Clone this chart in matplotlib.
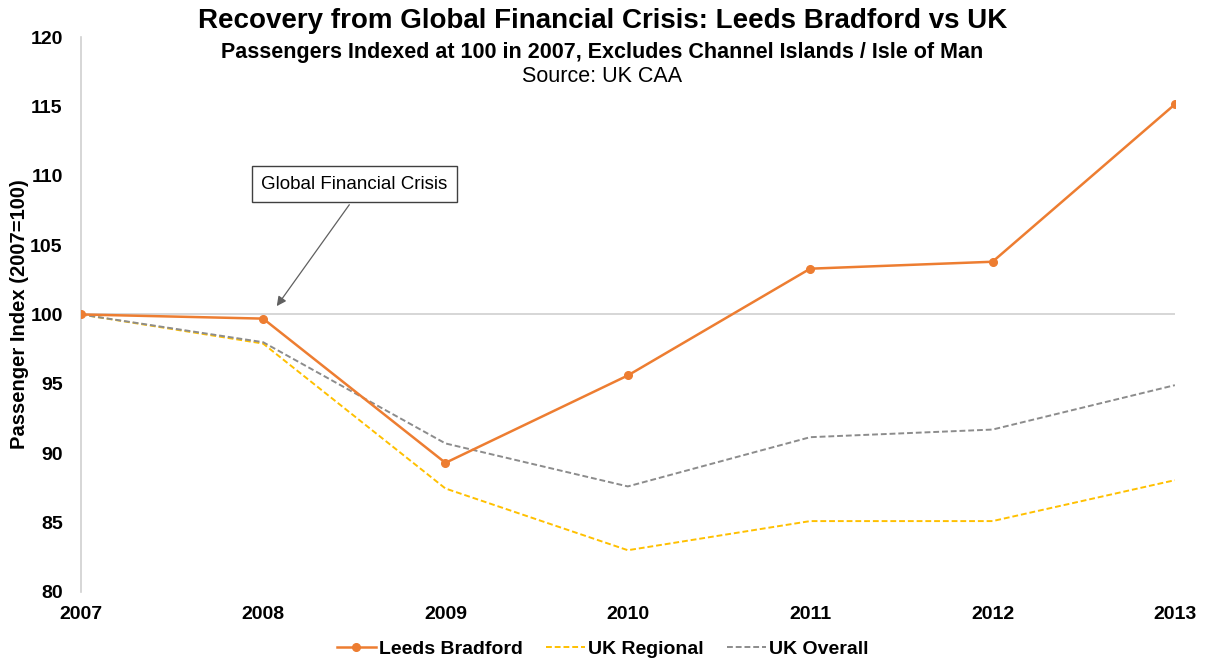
import matplotlib.pyplot as plt

plt.rcParams['font.family'] = ['Liberation Sans', 'DejaVu Sans']

years = [2007, 2008, 2009, 2010, 2011, 2012, 2013]
leeds = [100.0, 99.7, 89.3, 95.6, 103.3, 103.8, 115.15]
uk_regional = [100.0, 97.9, 87.45, 83.0, 85.1, 85.1, 88.05]
uk_overall = [100.0, 98.0, 90.7, 87.6, 91.15, 91.7, 94.9]

fig = plt.figure(figsize=(12.05, 6.62), dpi=100)
ax = fig.add_axes([0.067, 0.106, 0.908, 0.838])

ax.axhline(100, color='#d0d0d0', lw=1.2, zorder=1)
ax.plot(years, leeds, color='#ED7D31', lw=1.8, marker='o', ms=5.5,
        label='Leeds Bradford', zorder=4)
ax.plot(years, uk_regional, color='#FFC000', lw=1.4, dashes=(3, 1.5),
        label='UK Regional', zorder=3)
ax.plot(years, uk_overall, color='#8c8c8c', lw=1.4, dashes=(3, 1.5),
        label='UK Overall', zorder=3)

ax.set_xlim(2007, 2013)
ax.set_ylim(80, 120)
ax.set_yticks(range(80, 121, 5))
ax.set_xticks(years)
ax.tick_params(length=0, labelsize=14)
ax.tick_params(axis='y', pad=13)
ax.tick_params(axis='x', pad=10)
for lab in ax.get_xticklabels() + ax.get_yticklabels():
    lab.set_fontweight('bold')

for s in ['top', 'right', 'bottom']:
    ax.spines[s].set_visible(False)
ax.spines['left'].set_color('#d0d0d0')
ax.spines['left'].set_linewidth(1.2)

ax.set_ylabel('Passenger Index (2007=100)', fontsize=14.5, fontweight='bold', labelpad=1)

# annotation box with arrow pointing at 2008
ax.annotate('Global Financial Crisis', xy=(2008.075, 100.6), xytext=(2008.5, 109.4),
            ha='center', va='center', fontsize=13.5,
            bbox=dict(boxstyle='square,pad=0.5', fc='white', ec='#404040', lw=1),
            arrowprops=dict(arrowstyle='-|>', color='#606060', lw=0.9,
                            mutation_scale=14, relpos=(0.52, 0), shrinkB=0))

fig.text(0.5, 0.969, 'Recovery from Global Financial Crisis: Leeds Bradford vs UK',
         ha='center', va='center', fontsize=20, fontweight='bold')
fig.text(0.5, 0.921, 'Passengers Indexed at 100 in 2007, Excludes Channel Islands / Isle of Man',
         ha='center', va='center', fontsize=15.5, fontweight='bold')
fig.text(0.5, 0.885, 'Source: UK CAA', ha='center', va='center', fontsize=15.5)

leg = fig.legend(loc='center', bbox_to_anchor=(0.5, 0.02), ncol=3, frameon=False,
                 fontsize=14, handlelength=2.0, handletextpad=0.15, columnspacing=1.2)
for t in leg.get_texts():
    t.set_fontweight('bold')

fig.savefig('out.png', dpi=100)
